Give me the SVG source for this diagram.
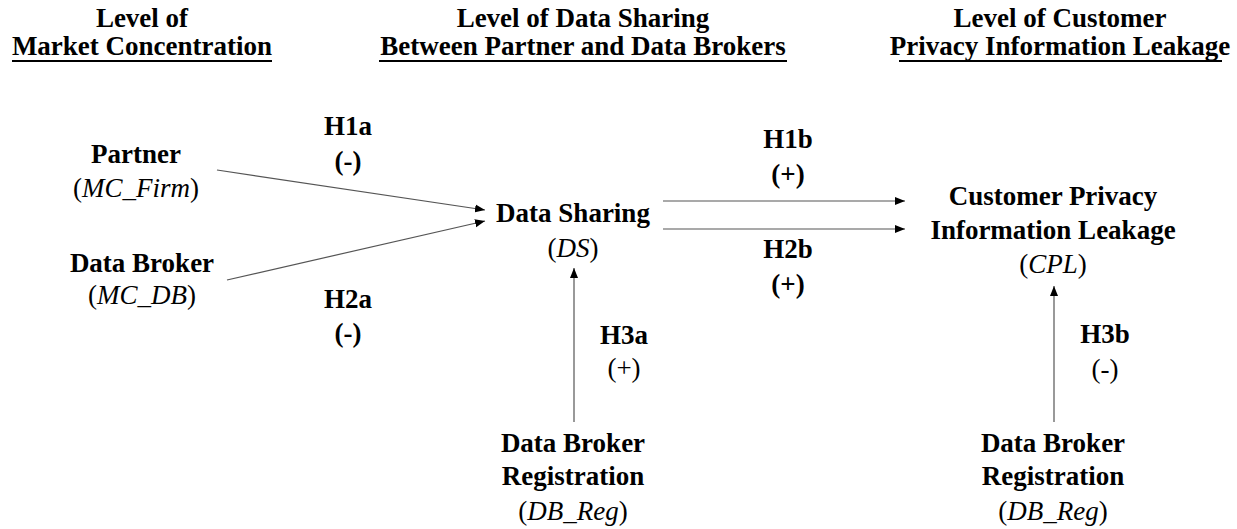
<svg xmlns="http://www.w3.org/2000/svg" width="1237" height="529" viewBox="0 0 1237 529">
<style>
text{font-family:'Liberation Serif','Times New Roman',serif;font-size:27px;fill:#000;text-anchor:middle}
.b{font-weight:bold}
.i{font-style:italic}
.ul{stroke:#000;stroke-width:2}
.c{stroke:#555;stroke-width:1.2;fill:none;marker-end:url(#ah)}
</style>
<defs>
<marker id="ah" viewBox="0 0 10 10" refX="10" refY="5" markerWidth="10" markerHeight="10" markerUnits="userSpaceOnUse" orient="auto">
<path d="M0,1 L10,5 L0,9 Z" fill="#000"/>
</marker>
</defs>
<g id="headers">
<text class="b" x="142" y="27">Level of</text>
<text class="b" x="142" y="55">Market Concentration</text>
<line class="ul" x1="12" y1="61" x2="272" y2="61"/>
<text class="b" x="583" y="27">Level of Data Sharing</text>
<text class="b" x="583" y="55">Between Partner and Data Brokers</text>
<line class="ul" x1="379" y1="61" x2="787" y2="61"/>
<text class="b" x="1060" y="27">Level of Customer</text>
<text class="b" x="1060" y="55">Privacy Information Leakage</text>
<line class="ul" x1="899" y1="61" x2="1222" y2="61"/>
</g>
<g id="connectors">
<line class="c" x1="217" y1="170" x2="485" y2="210"/>
<line class="c" x1="227" y1="280" x2="485" y2="221"/>
<line class="c" x1="663" y1="201" x2="905" y2="201"/>
<line class="c" x1="663" y1="229" x2="905" y2="229"/>
<line class="c" x1="574" y1="422" x2="574" y2="268"/>
<line class="c" x1="1054" y1="422" x2="1054" y2="286"/>
</g>
<g id="labels">
<text class="b" x="348" y="135">H1a</text>
<text class="b" x="348" y="170">(-)</text>
<text class="b" x="348" y="308">H2a</text>
<text class="b" x="348" y="342">(-)</text>
<text class="b" x="788" y="148">H1b</text>
<text class="b" x="788" y="183">(+)</text>
<text class="b" x="788" y="258">H2b</text>
<text class="b" x="788" y="293">(+)</text>
<text class="b" x="624" y="344">H3a</text>
<text x="624" y="377">(+)</text>
<text class="b" x="1105" y="343">H3b</text>
<text x="1105" y="378">(-)</text>
</g>
<g id="partner">
<text class="b" x="136" y="163">Partner</text>
<text x="136" y="197">(<tspan class="i">MC_Firm</tspan>)</text>
</g>
<g id="databroker">
<text class="b" x="142" y="272">Data Broker</text>
<text x="142" y="304">(<tspan class="i">MC_DB</tspan>)</text>
</g>
<g id="datasharing">
<text class="b" x="573" y="222">Data Sharing</text>
<text x="573" y="257">(<tspan class="i">DS</tspan>)</text>
</g>
<g id="cpl">
<text class="b" x="1053" y="205">Customer Privacy</text>
<text class="b" x="1053" y="239">Information Leakage</text>
<text x="1053" y="273">(<tspan class="i">CPL</tspan>)</text>
</g>
<g id="dbreg1">
<text class="b" x="573" y="452">Data Broker</text>
<text class="b" x="573" y="485">Registration</text>
<text x="573" y="520">(<tspan class="i">DB_Reg</tspan>)</text>
</g>
<g id="dbreg2">
<text class="b" x="1053" y="452">Data Broker</text>
<text class="b" x="1053" y="485">Registration</text>
<text x="1053" y="520">(<tspan class="i">DB_Reg</tspan>)</text>
</g>
</svg>
